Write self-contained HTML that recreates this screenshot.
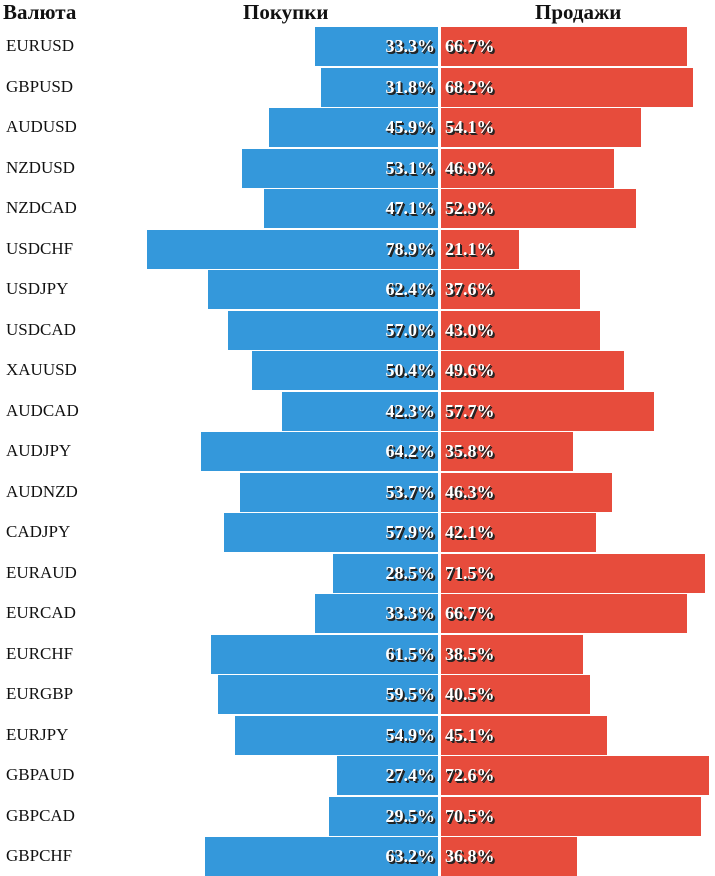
<!DOCTYPE html>
<html><head><meta charset="utf-8"><style>
body{margin:0;width:715px;height:872px;overflow:hidden;background:#fff;font-family:"Liberation Serif",serif;position:relative}
.h{position:absolute;top:0;font-weight:bold;font-size:21px;color:#111}
.lab{position:absolute;left:6px;font-size:17px;color:#111}
.bar{position:absolute;height:39px}
.v{position:absolute;top:0;line-height:39px;font-weight:bold;font-size:18px;color:#fff;text-shadow:1px 1px 0 #222,2px 2px 0 #222}
</style></head><body>
<div class="h" style="left:3px">Валюта</div>
<div class="h" style="left:243px">Покупки</div>
<div class="h" style="left:535px">Продажи</div>
<div id="chart"></div>
<script>
const pairs=["EURUSD","GBPUSD","AUDUSD","NZDUSD","NZDCAD","USDCHF","USDJPY","USDCAD","XAUUSD","AUDCAD","AUDJPY","AUDNZD","CADJPY","EURAUD","EURCAD","EURCHF","EURGBP","EURJPY","GBPAUD","GBPCAD","GBPCHF"];
const buys=[33.3,31.8,45.9,53.1,47.1,78.9,62.4,57.0,50.4,42.3,64.2,53.7,57.9,28.5,33.3,61.5,59.5,54.9,27.4,29.5,63.2];
const sells=[66.7,68.2,54.1,46.9,52.9,21.1,37.6,43.0,49.6,57.7,35.8,46.3,42.1,71.5,66.7,38.5,40.5,45.1,72.6,70.5,36.8];
const K=3.69,CB=438,CR=441,T0=27,P=40.5;
const c=document.getElementById('chart');
pairs.forEach((p,i)=>{
 const y=T0+i*P;
 const l=document.createElement('div');l.className='lab';l.style.top=(y+9)+'px';l.textContent=p;
 
 
 c.appendChild(l);
 const bw=buys[i]*K;
 const b=document.createElement('div');b.className='bar';b.style.cssText+=`top:${y}px;left:${CB-bw}px;width:${bw}px;background:#3498db`;
 
 
 b.innerHTML=`<span class="v" style="right:3px">${buys[i].toFixed(1)}%</span>`;
 c.appendChild(b);
 const sw=sells[i]*K;
 const s=document.createElement('div');s.className='bar';s.style.cssText+=`top:${y}px;left:${CR}px;width:${sw}px;background:#e74c3c`;
 
 
 s.innerHTML=`<span class="v" style="left:4px">${sells[i].toFixed(1)}%</span>`;
 c.appendChild(s);
});
</script>
</body></html>
